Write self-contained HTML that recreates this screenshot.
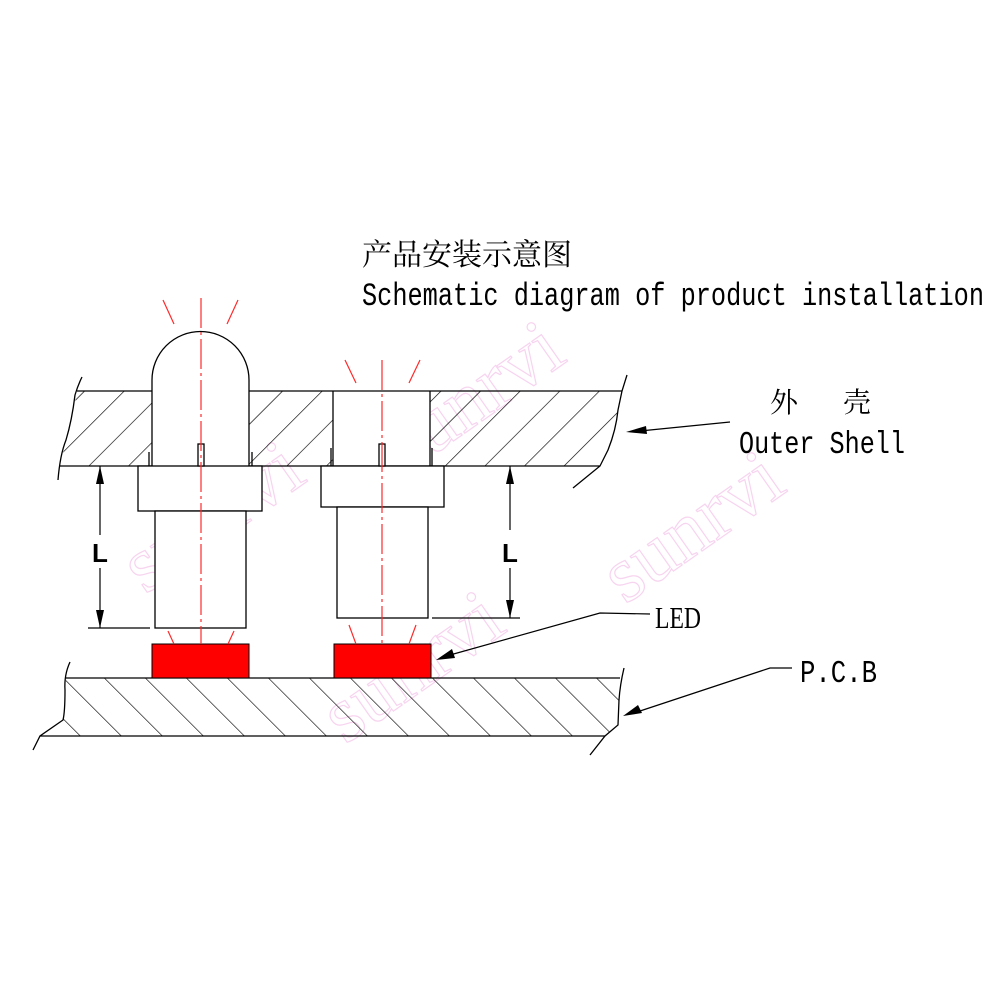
<!DOCTYPE html>
<html><head><meta charset="utf-8"><style>
html,body{margin:0;padding:0;background:#fff;}
svg{display:block;}
</style></head><body>
<svg width="1000" height="1000" viewBox="0 0 1000 1000" xmlns="http://www.w3.org/2000/svg">
<defs>
<pattern id="h1" patternUnits="userSpaceOnUse" width="28" height="28" patternTransform="rotate(45)">
<line x1="0" y1="0" x2="0" y2="28" stroke="#000" stroke-width="1.3"/>
</pattern>
<pattern id="h2" patternUnits="userSpaceOnUse" width="29" height="29" patternTransform="rotate(-45)">
<line x1="0" y1="0" x2="0" y2="29" stroke="#000" stroke-width="1.3"/>
</pattern>
</defs>
<rect width="1000" height="1000" fill="#fff"/>

<!-- titles -->
<text x="362" y="265" font-family="Liberation Serif, Noto Serif CJK SC, serif" font-size="30">产品安装示意图</text>
<text x="362" y="305" font-family="Liberation Mono, monospace" font-size="28" textLength="622" lengthAdjust="spacingAndGlyphs" transform="translate(0 -45.75) scale(1 1.15)">Schematic diagram of product installation</text>

<!-- watermark -->
<g fill="none" stroke="#f7d4ef" stroke-width="1.2" font-family="Liberation Serif, serif" font-size="80">
<text x="145" y="595" transform="rotate(-35 145 595)">sunrvi</text>
<text x="405" y="475" transform="rotate(-35 405 475)">sunrvi</text>
<text x="625" y="605" transform="rotate(-35 625 605)">sunrvi</text>
<text x="345" y="745" transform="rotate(-35 345 745)">sunrvi</text>
</g>

<!-- outer shell -->
<path d="M77,391 L622,391 L618,410 L614,435 L600,466 L60,466 Q66,440 72,420 Z" fill="url(#h1)"/>
<rect x="152" y="380" width="97" height="86" fill="#fff"/>
<rect x="333" y="391" width="97" height="75" fill="#fff"/>
<g stroke="#000" stroke-width="1.3" fill="none">
<line x1="77" y1="391" x2="152" y2="391"/>
<line x1="249" y1="391" x2="622" y2="391"/>
<line x1="60" y1="466" x2="600" y2="466"/>
<path d="M82,377 Q78,385 75,395 Q72,420 66,440 Q60,455 58,480"/>
<path d="M627,375 L622,391 L618,410 Q616,430 608,450 L600,466 L573,488"/>
</g>

<!-- left LED -->
<g stroke="#000" stroke-width="1.3" fill="#fff">
<path d="M152,466 L152,380 A48.5,48.5 0 0 1 249,380 L249,466"/>
<rect x="138" y="466" width="124" height="45"/>
<rect x="155" y="511" width="91" height="117"/>
<rect x="198" y="444" width="6" height="22"/>
<line x1="149" y1="452" x2="149" y2="466"/>
<line x1="252" y1="452" x2="252" y2="466"/>
</g>
<!-- right LED -->
<g stroke="#000" stroke-width="1.3" fill="#fff">
<line x1="333" y1="391" x2="333" y2="466"/>
<line x1="430" y1="391" x2="430" y2="466"/>
<rect x="321" y="466" width="123" height="41"/>
<rect x="337" y="507" width="91" height="111"/>
<rect x="379" y="444" width="6" height="22"/>
<line x1="331" y1="448" x2="331" y2="466"/>
<line x1="432" y1="448" x2="432" y2="466"/>
</g>

<!-- PCB -->
<path d="M66,678 L620,678 L619,700 L618,725 L605,736 L40,736 L63,720 Z" fill="url(#h2)"/>
<g stroke="#000" stroke-width="1.3" fill="none">
<line x1="66" y1="678" x2="620" y2="678"/>
<line x1="40" y1="736" x2="605" y2="736"/>
<path d="M70,662 Q64,675 65,690 Q65,712 63,720 L40,736 L33,750"/>
<path d="M624,668 Q620,685 619,700 L618,725 L605,736 L590,755"/>
</g>
<rect x="152" y="644" width="97" height="34" fill="#ff0000" stroke="#000" stroke-width="1"/>
<rect x="334" y="644" width="97" height="34" fill="#ff0000" stroke="#000" stroke-width="1"/>

<!-- center lines and rays -->
<g stroke="#ff2a2a" stroke-width="1.2" fill="none">
<line x1="201" y1="298" x2="201" y2="644" stroke-dasharray="30,4,3,4"/>
<line x1="382" y1="360" x2="382" y2="644" stroke-dasharray="30,4,3,4"/>
<line x1="163" y1="300" x2="174" y2="324"/>
<line x1="238" y1="300" x2="227" y2="324"/>
<line x1="345" y1="360" x2="356" y2="383"/>
<line x1="420" y1="360" x2="409" y2="383"/>
<line x1="168" y1="631" x2="174" y2="644"/>
<line x1="234" y1="631" x2="228" y2="644"/>
<line x1="349" y1="625" x2="356" y2="644"/>
<line x1="416" y1="625" x2="409" y2="644"/>
</g>

<!-- dimensions -->
<g stroke="#000" stroke-width="1.2" fill="none">
<line x1="100" y1="466" x2="100" y2="535"/>
<line x1="100" y1="568" x2="100" y2="628"/>
<line x1="88" y1="628" x2="150" y2="628"/>
<line x1="510" y1="466" x2="510" y2="530"/>
<line x1="510" y1="568" x2="510" y2="618"/>
<line x1="432" y1="618" x2="520" y2="618"/>
</g>
<g fill="#000">
<path d="M100,466 L96,484 L104,484 Z"/>
<path d="M100,628 L96,610 L104,610 Z"/>
<path d="M510,466 L506,484 L514,484 Z"/>
<path d="M510,618 L506,600 L514,600 Z"/>
</g>
<text x="92" y="562" font-family="Liberation Sans, sans-serif" font-size="26" font-weight="bold">L</text>
<text x="502" y="562" font-family="Liberation Sans, sans-serif" font-size="26" font-weight="bold">L</text>

<!-- leaders -->
<g stroke="#000" stroke-width="1.2" fill="none">
<line x1="730" y1="422" x2="640" y2="431"/>
<polyline points="650,614 600,613 450,655"/>
<polyline points="792,668 770,668 640,711"/>
</g>
<g fill="#000">
<path d="M626,432 L646,426 L647,434 Z"/>
<path d="M436,660 L452,649 L455,658 Z"/>
<path d="M623,716 L638,705 L642,713 Z"/>
</g>

<!-- labels -->
<text x="770" y="412" font-family="Liberation Serif, Noto Serif CJK SC, serif" font-size="28">外</text>
<text x="843" y="412" font-family="Liberation Serif, Noto Serif CJK SC, serif" font-size="28">壳</text>
<text x="739" y="453" font-family="Liberation Mono, monospace" font-size="27" textLength="166" lengthAdjust="spacingAndGlyphs" transform="translate(0 -67.95) scale(1 1.15)">Outer Shell</text>
<text x="655" y="628" font-family="Liberation Serif, serif" font-size="27" textLength="46" lengthAdjust="spacingAndGlyphs" transform="translate(0 -94.2) scale(1 1.15)">LED</text>
<text x="800" y="682" font-family="Liberation Mono, monospace" font-size="27" textLength="77" lengthAdjust="spacingAndGlyphs" transform="translate(0 -102.3) scale(1 1.15)">P.C.B</text>
</svg>
</body></html>
